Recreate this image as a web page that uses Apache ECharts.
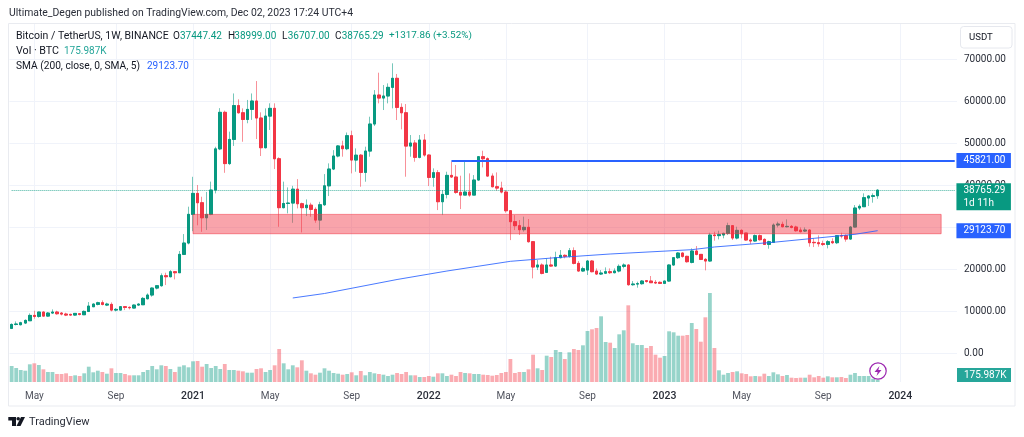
<!DOCTYPE html>
<html>
<head>
<meta charset="utf-8">
<script src="https://cdn.jsdelivr.net/npm/echarts@6/dist/echarts.min.js"></script>
<style>html,body{margin:0;padding:0;background:#fff}#c{width:1024px;height:437px}</style>
</head>
<body>
<div id="c"></div>
<script>
const opens = [5860,6800,6730,7130,7680,8950,8715,9750,8790,9510,
9750,9510,9270,9190,9030,9350,9110,9900,11010,11570,
11970,11410,11570,10220,10220,11020,10860,10700,11410,11490,
12920,13800,15460,16020,18400,18160,19350,19110,23480,26180,
33000,38000,35780,32200,33000,38800,48600,57300,45100,50850,
58900,57200,55600,58000,60000,55950,48880,56400,58250,46250,
34600,35600,35700,39000,35540,34600,35200,34200,31650,35300,
39800,43800,46900,49300,48640,51740,45940,47100,43000,48080,
54520,61420,60700,61190,63250,65400,58480,57200,49270,49990,
46580,50700,47130,41810,42930,36020,37760,42290,41900,38240,
37600,38320,37600,41180,46735,46260,42130,39590,39270,38320,
33870,31270,30310,29360,29920,26500,20470,20950,19200,20950,
20700,22690,23250,23010,24360,21340,19520,19750,21900,19500,
18800,19000,19360,19120,19520,20630,20950,16260,16420,16500,
17210,17130,16820,16820,16580,17130,20950,22690,23800,23010,
21580,24280,23480,22290,21900,28090,27950,28090,28480,30310,
27370,29200,28570,26900,26660,27930,27050,25860,26340,30470,
30630,30070,30150,29990,29270,29040,29270,26340,26260,26020,
25860,26500,26260,27930,27930,27130,29990,34520,34830,36900,
37300,37447.42];
const closes = [6800,6900,7200,7760,8950,8715,9750,8790,9510,9750,
9350,9270,9030,9030,9430,9190,9900,11170,11650,11970,
11570,11650,10220,10380,11020,10860,10780,11410,11650,13000,
13800,15460,16020,18400,18160,19350,19110,23480,26180,33010,
38000,35780,32200,33000,38800,48600,57300,45100,50850,58900,
57200,55600,58000,60000,55950,48880,56400,58250,46250,34600,
35600,35700,39000,35540,34600,35200,34200,31650,35300,39800,
43800,46900,49300,48640,51740,45940,47100,43000,48080,54520,
61420,60700,61190,63250,65400,58480,57200,49270,49990,46580,
50700,47130,41810,42930,36020,37760,42290,41900,38240,37600,
38320,37600,41180,46735,46260,42130,39590,39270,38320,33870,
31270,30310,29360,29920,26500,20470,20950,18960,20950,20700,
22690,23250,23010,24360,21340,19520,20070,21900,19360,18800,
19040,19360,19120,19520,20630,20950,16260,16420,16500,17130,
17050,16740,16660,16580,17130,20950,22690,23800,23010,21740,
24280,23480,22290,21900,28090,27950,28190,28480,30310,27370,
29200,28400,26900,26660,27930,26980,25860,26500,30470,30710,
30070,30150,29900,29120,28880,29270,26260,26260,26020,25860,
26500,26260,27930,27850,27130,29990,34520,34920,36980,37380,
37447.42,38765.29];
const highs = [7050,7520,7440,8000,9430,10060,9830,9900,9750,10380,
10060,9750,9590,9350,9510,9430,10140,12130,11810,12210,
12530,11970,12050,10700,11170,11170,11100,11570,11810,13320,
14200,15620,16100,18950,19110,19750,19500,24280,28320,34840,
41950,40000,37200,38350,40800,49100,58300,57700,52700,61800,
60400,58250,60250,61800,64750,57300,58250,59450,59450,46600,
40800,39430,39800,41400,35800,36570,35780,34670,36000,42600,
45150,48300,49500,50550,52500,52930,48720,47370,49120,56260,
62600,66740,63800,64200,68970,66430,59440,59280,51900,50700,
51900,52130,47290,43960,43560,38800,43160,45540,44750,42210,
45540,42770,42370,46900,48160,46580,42770,43000,40780,38800,
34030,32840,31670,32460,31900,26660,22140,21340,22540,22930,
24120,24520,23490,25000,25150,21900,20550,22140,22140,20150,
19750,20390,20150,20150,21100,21340,21100,17130,16980,17370,
17370,18330,17370,17050,17210,21100,22850,24000,23960,23170,
24910,25470,23560,22610,28640,28880,29120,28640,31020,30470,
30070,29440,28570,27300,28240,28240,27300,26740,30870,31270,
31270,31820,30470,30310,29910,29910,29440,27300,28010,26740,
26900,27300,28090,28640,28240,30230,35230,35390,38010,37540,
38010,38999];
const lows = [5700,6570,6570,6890,7680,8160,8400,8640,8640,9350,
9110,8950,8790,8870,8870,8950,9030,9750,10940,11330,
11330,11170,9900,9900,10140,10220,10380,10620,11250,11410,
12760,13400,15150,15780,16180,18000,17530,19110,23320,25860,
29000,30400,28850,29300,32800,38000,48300,42900,44750,49300,
57000,50300,54700,55500,50950,46900,48700,53100,43800,30050,
34430,33240,31000,34430,28700,32600,32440,31000,29270,35000,
37370,43550,46580,46740,48300,42770,43160,39590,40780,46740,
54040,59440,57850,59440,58250,55470,53250,41970,46740,45540,
46340,46740,39750,39590,34030,32840,36810,41700,37900,34270,
37600,37200,37600,41020,44200,41970,39430,38640,38000,33400,
26880,29270,28100,28890,26270,17770,19750,18720,19040,20540,
20540,22540,22540,22690,21100,19360,19360,18570,19200,18570,
18570,18800,18800,18960,19200,20150,16020,16020,15550,16260,
16740,16660,16420,16420,16420,16980,20790,22380,22690,21500,
21340,23250,22130,19670,21740,26740,27050,27300,28090,26900,
27050,27300,26740,25940,26500,26740,25710,24830,26260,29910,
29910,29910,29680,28880,28720,28800,25310,25230,25310,25470,
24910,25940,25940,27300,26500,26980,29910,34040,34830,34990,
35790,36707];
// weekly volume, thousands of BTC
const volumes = [1280,1120,960,904,1416,1496,1360,1016,800,800,
640,640,696,480,536,480,696,1224,776,904,
800,664,1096,720,720,640,536,536,536,800,
960,1280,1016,1336,1280,1040,800,1224,1336,1176,
1656,1680,1224,1440,1120,1280,1040,1440,960,960,
904,856,744,744,1040,1096,800,960,1336,2640,
1496,1016,1336,1176,1736,904,696,584,744,1096,
904,720,664,584,640,776,536,880,536,800,
696,640,584,480,584,720,640,800,536,536,
400,400,480,424,696,696,480,584,480,800,
720,696,640,640,584,560,504,560,720,800,
1840,720,800,800,1016,2184,1096,960,2104,2000,
2560,2400,1840,2376,2640,2560,2936,4080,4216,4320,
5256,3200,3144,2720,3816,4136,6136,3096,2960,2960,
2720,2880,2184,1944,2080,4056,3976,3704,3704,3760,
4720,4240,3224,5176,7120,2720,936,584,720,800,
856,696,640,456,480,456,664,480,776,616,
480,560,344,320,344,344,584,376,480,344,
456,376,376,400,320,584,720,480,480,480,
264,176];
const smaIndex = [62,69,85,96,110,120,132,150,155,168,177,186,191];
const smaValues = [13100,14170,17500,19520,21830,22690,23570,24600,25240,26360,27310,28260,29123.7];
const tickLabels = {5:'May',23:'Sep',40:'2021',57:'May',75:'Sep',92:'2022',109:'May',127:'Sep',144:'2023',161:'May',179:'Sep',196:'2024'};
const priceTicks = [0,10000,20000,30000,40000,50000,60000,70000];
const priceLabels = [0,10000,20000,40000,50000,60000,70000];
const zoneTop = 33000, zoneBottom = 28400, zoneStart = 40, zoneEnd = 205;
const levelPrice = 45821, levelStart = 97;
const lastPrice = 38765.29, lastSma = 29123.7;

const UP = '#089981', DOWN = '#F23645', BLUE = '#2962FF', TXT = '#131722';
const FF = 'Roboto, sans-serif';
const slots = 209, lastSlot = slots - 1;
const categories = Array.from({length: slots}, (_, i) => 'w' + i);
const wickData = opens.map((o, i) => [o, closes[i], lows[i], highs[i]]);
const bodyData = opens.map((o, i) => [o, closes[i], Math.min(o, closes[i]), Math.max(o, closes[i])]);
const volData = volumes.map((v, i) => ({value: v, itemStyle: {color: closes[i] >= opens[i] ? 'rgba(8,153,129,.42)' : 'rgba(242,54,69,.42)'}}));
const smaData = categories.map(() => null);
smaIndex.forEach((k, j) => { smaData[k] = smaValues[j]; });

function text(x, y, t, fill, size, extra) {
  return {type: 'text', x, y, z: 50, style: Object.assign({text: t, fill, font: (size || 10) + 'px ' + FF, textVerticalAlign: 'middle'}, extra || {})};
}
const chart = echarts.init(document.getElementById('c'), null, {renderer: 'canvas'});
chart.setOption({
  animation: false,
  grid: {left: 9.4, top: 24, width: 947.6, height: 358},
  xAxis: {
    type: 'category', data: categories, boundaryGap: true,
    axisLine: {show: false},
    axisTick: {show: false, alignWithLabel: true},
    splitLine: {show: true, alignWithLabel: true, interval: i => i in tickLabels, lineStyle: {color: '#f0f3fa', width: 1}},
    axisLabel: {
      interval: i => i in tickLabels, margin: 9, hideOverlap: false,
      formatter: (v, i) => {
        const t = tickLabels[i] || '';
        return t.length === 4 ? '{y|' + t + '}' : '{m|' + t + '}';
      },
      rich: {
        y: {fontFamily: FF, fontSize: 10.5, fontWeight: 500, color: '#2a2e39'},
        m: {fontFamily: FF, fontSize: 10, color: '#50535e'}
      }
    }
  },
  yAxis: [{
    type: 'value', position: 'right',
    min: (353 - 382) / 0.0042, max: (353 - 24) / 0.0042,
    axisLine: {show: false},
    axisTick: {show: false, customValues: priceTicks},
    splitLine: {show: true, lineStyle: {color: '#f0f3fa', width: 1}},
    axisLabel: {customValues: priceLabels, margin: 7, color: '#2a2e39', fontFamily: FF, fontSize: 10, padding: [2, 0, 0, 0], formatter: v => v.toFixed(2), showMinLabel: true, showMaxLabel: true}
  }, {
    type: 'value', show: false, min: 0, max: 28640, splitLine: {show: false}
  }],
  series: [{
    type: 'bar', name: 'Vol', yAxisIndex: 1, data: volData, barWidth: 3.8, z: 1, silent: true
  }, {
    type: 'candlestick', name: 'BTCUSDT wicks', data: wickData, barWidth: 3, z: 2, silent: true,
    itemStyle: {color: 'rgba(8,153,129,.55)', color0: 'rgba(242,54,69,.55)', borderColor: 'rgba(8,153,129,.55)', borderColor0: 'rgba(242,54,69,.55)', borderWidth: 1}
  }, {
    type: 'candlestick', name: 'BTCUSDT bodies', data: bodyData, barWidth: 3, z: 2, silent: true,
    itemStyle: {color: UP, color0: DOWN, borderColor: UP, borderColor0: DOWN, borderWidth: 1}
  }, {
    type: 'line', name: 'SMA', data: smaData, connectNulls: true, showSymbol: false, symbol: 'none', z: 4, silent: true,
    lineStyle: {color: BLUE, width: 1, opacity: .85},
    markArea: {
      silent: true, z: 3,
      itemStyle: {color: 'rgba(242,54,69,.45)', borderColor: 'rgba(242,54,69,.55)', borderWidth: 1},
      data: [[{coord: [zoneStart, zoneTop]}, {coord: [zoneEnd, zoneBottom]}]]
    },
    markLine: {
      silent: true, symbol: 'none', z: 6, animation: false,
      data: [
        [{coord: [0, lastPrice], lineStyle: {color: 'rgba(8,153,129,.75)', width: 1, type: 'dotted'},
          label: {show: true, position: 'end', distance: 1.7, formatter: '38765.29\n1d 11h', backgroundColor: UP, color: '#fff', fontFamily: FF, fontSize: 10, lineHeight: 13, padding: [1, 5.5, 0, 7], offset: [0, 6.5], align: 'left'}},
         {coord: [lastSlot, lastPrice]}],
        [{coord: [levelStart, levelPrice], lineStyle: {color: BLUE, width: 2, type: 'solid'},
          label: {show: true, position: 'end', distance: 1.7, formatter: '45821.00', backgroundColor: BLUE, color: '#fff', fontFamily: FF, fontSize: 10, lineHeight: 15, padding: [0, 5.5, 0, 7], align: 'left'}},
         {coord: [lastSlot, levelPrice]}],
        [{coord: [lastSlot - 1, lastSma], lineStyle: {color: 'rgba(0,0,0,0)', width: 0},
          label: {show: true, position: 'end', distance: 1.7, formatter: '29123.70', backgroundColor: BLUE, color: '#fff', fontFamily: FF, fontSize: 10, lineHeight: 15, padding: [0, 5.5, 0, 7], align: 'left'}},
         {coord: [lastSlot, lastSma]}]
      ]
    }
  }],
  graphic: {elements: [
    {type: 'rect', z: 40, shape: {x: 8.5, y: 23.5, width: 1006.5, height: 382.5}, style: {fill: 'none', stroke: '#e9ebf0', lineWidth: 1}},
    text(9, 13, 'Ultimate_Degen published on TradingView.com, Dec 02, 2023 17:24 UTC+4', '#2a2e39', 10.4),
    text(16, 36, 'Bitcoin / TetherUS, 1W, BINANCE', TXT, 10.5),
    text(173, 36, 'O', TXT), text(180, 36, '37447.42', UP),
    text(228, 36, 'H', TXT), text(234.3, 36, '38999.00', UP),
    text(282, 36, 'L', TXT), text(287.7, 36, '36707.00', UP),
    text(335, 36, 'C', TXT), text(341.7, 36, '38765.29', UP),
    text(389, 36, '+1317.86 (+3.52%)', UP, 9.9),
    text(16, 51, 'Vol · BTC', TXT, 10.7), text(64, 51, '175.987K', '#26A69A'),
    text(16, 66, 'SMA (200, close, 0, SMA, 5)', TXT, 10.2), text(147, 66, '29123.70', BLUE),
    {type: 'rect', z: 45, shape: {x: 960.5, y: 26.5, width: 51.5, height: 21.5, r: 3}, style: {fill: '#fff', stroke: '#e6e8ee', lineWidth: 1}},
    text(969, 37.5, 'USDT', TXT, 9.6),
    {type: 'rect', z: 45, shape: {x: 957, y: 368, width: 54, height: 14}, style: {fill: '#26A69A'}},
    text(964, 375, '175.987K', '#fff', 10),
    {type: 'circle', z: 45, shape: {cx: 878, cy: 371, r: 8.2}, style: {fill: '#fff', stroke: '#9C27B0', lineWidth: 1.2}},
    {type: 'polygon', z: 46, shape: {points: [[879.5, 366], [874.5, 372], [877.7, 372], [876.5, 376], [881.5, 370], [878.3, 370]]}, style: {fill: '#9C27B0'}},
    {type: 'polygon', z: 45, shape: {points: [[8.3, 417], [16, 417], [16, 426], [12, 426], [12, 420.5], [8.3, 420.5]]}, style: {fill: '#131722'}},
    {type: 'circle', z: 45, shape: {cx: 18.2, cy: 418.8, r: 1.8}, style: {fill: '#131722'}},
    {type: 'polygon', z: 45, shape: {points: [[25, 417], [20.5, 426], [16.5, 426], [21, 417]]}, style: {fill: '#131722'}},
    text(29, 422, 'TradingView', '#2a2e39', 11)
  ]}
});
</script>
</body>
</html>
